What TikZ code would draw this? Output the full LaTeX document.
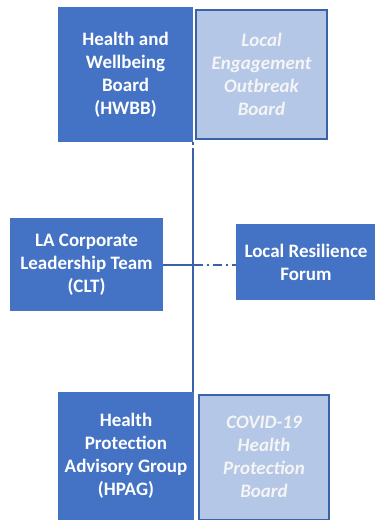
\documentclass[tikz,border=0pt]{standalone}
\usepackage{fontspec}
\setmainfont{Carlito}
\usetikzlibrary{calc}
\definecolor{boardblue}{HTML}{4472C4}
\definecolor{paleblue}{HTML}{B4C7E7}
\definecolor{edgeblue}{HTML}{3A62A8}

\begin{document}
\begin{tikzpicture}[x=1pt,y=-1pt,thick,
  dark node/.style={rectangle,fill=boardblue,text=white,align=center,inner sep=0pt,
    font=\fontsize{19}{23}\selectfont\bfseries},
  pale node/.style={rectangle,fill=paleblue,draw=edgeblue,line width=2pt,text=white!96!black,
    align=center,inner sep=0pt,font=\fontsize{19}{23}\selectfont\bfseries\itshape},
  link/.style={draw=edgeblue,line width=2pt}]

 \useasboundingbox (0,0) rectangle (375,520);

 \node[dark node,minimum width=135pt,minimum height=135pt] (hwbb) at (125.5,74.5)
   {Health and\\Wellbeing\\Board\\(HWBB)};
 \node[pale node,minimum width=131pt,minimum height=129pt] (leob) at (261.5,74.5)
   {Local\\Engagement\\Outbreak\\Board};
 \node[dark node,minimum width=153pt,minimum height=93pt] (clt) at (86.5,264.5)
   {LA Corporate\\Leadership Team\\(CLT)};
 \node[dark node,minimum width=140pt,minimum height=76pt] (lrf) at (306,262)
   {Local Resilience\\Forum};
 \node[dark node,minimum width=136pt,minimum height=128pt] (hpag) at (126,456)
   {Health\\Protection\\Advisory Group\\(HPAG)};
 \node[pale node,minimum width=130pt,minimum height=125pt] (covid) at (264,457)
   {COVID-19\\Health\\Protection\\Board};

 \coordinate (hub) at (193.5,264.5);

 % white dashed seams between the paired boards
 \draw[white,dashed,line width=1.2pt] (hwbb.north east) -- (hwbb.south east);
 \draw[white,dashed,line width=1.2pt] (hpag.north east) -- (hpag.south east);

 % the spine and the side links
 \draw[link,dashed] (hwbb.south east) -- ++(0,9) coordinate (spinetop);
 \draw[link] (spinetop) -- (spinetop |- hpag.north);
 \draw[link] (clt.east) -- (hub);
 \draw[link,dash pattern=on 9pt off 4pt on 2pt off 4pt] (hub) -- (lrf.west |- hub);

\end{tikzpicture}
\end{document}
